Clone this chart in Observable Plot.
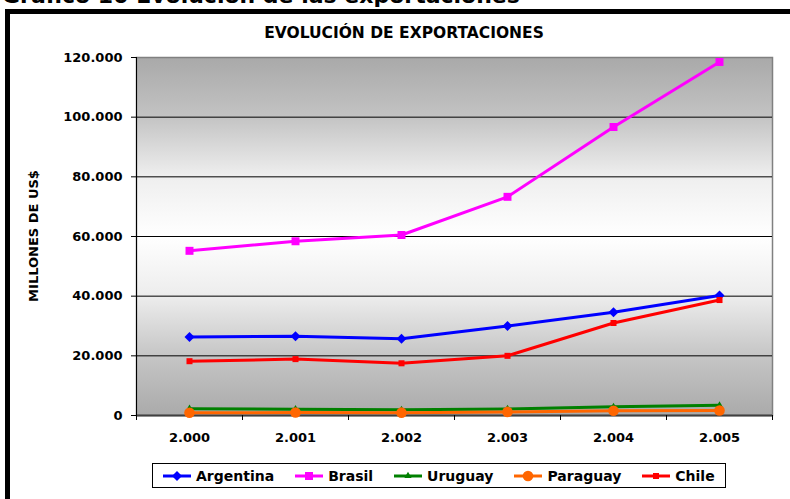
<!DOCTYPE html>
<html>
<head>
<meta charset="utf-8">
<script src="https://cdn.jsdelivr.net/npm/d3@7"></script>
<script src="https://cdn.jsdelivr.net/npm/@observablehq/plot@0.6"></script>
<style>
  html, body { margin: 0; padding: 0; background: #fff; }
  #wrap { position: relative; width: 790px; height: 499px; overflow: hidden; font-family: "DejaVu Sans", sans-serif; font-weight: bold; color: #000; }
  #maintitle { position: absolute; left: 2px; top: -15px; font-size: 22px; line-height: 22px; white-space: nowrap; }
  #outer { position: absolute; left: 5px; top: 9px; width: 820px; height: 600px; border-left: 5px solid #000; border-top: 5px solid #000; }
  #charttitle { position: absolute; left: 0; width: 808px; top: 25px; text-align: center; font-size: 15.5px; line-height: 16px; }
  #ylabel { position: absolute; left: 33px; top: 236px; font-size: 13px; line-height: 13px; white-space: nowrap; transform: translate(-50%, -50%) rotate(-90deg); }
  #plot { position: absolute; left: 0; top: 0; }
  #legend { position: absolute; left: 152px; top: 463px; width: 574px; height: 25px; box-sizing: border-box; border: 1px solid #000; background: #fff; display: flex; align-items: center; padding-left: 10px; gap: 21px; font-size: 14px; }
  .item { display: flex; align-items: center; gap: 5px; white-space: nowrap; }
  .item svg { display: block; }
</style>
</head>
<body>
<div id="wrap">
  <div id="maintitle">Gráfico 10 Evolución de las exportaciones</div>
  <div id="outer"></div>
  <div id="plot"></div>
  <div id="charttitle">EVOLUCIÓN DE EXPORTACIONES</div>
  <div id="ylabel">MILLONES DE US$</div>
  <div id="legend"></div>
</div>
<script>
// ---- Data (millions of US$) ----
const years = [2000, 2001, 2002, 2003, 2004, 2005];
const xLabels = ["2.000", "2.001", "2.002", "2.003", "2.004", "2.005"];
const countries = ["Argentina", "Brasil", "Uruguay", "Paraguay", "Chile"];
const argentina = [26300, 26600, 25700, 30000, 34600, 40200];
const brasil    = [55200, 58400, 60500, 73300, 96700, 118500];
const uruguay   = [2300, 2100, 1900, 2200, 2900, 3400];
const paraguay  = [900, 1000, 950, 1200, 1600, 1700];
const chile     = [18200, 18900, 17500, 20000, 31000, 38700];
const yTicks = [0, 20000, 40000, 60000, 80000, 100000, 120000];

const seriesValues = { Argentina: argentina, Brasil: brasil, Uruguay: uruguay, Paraguay: paraguay, Chile: chile };

// ---- Styles ----
const styles = {
  Argentina: { color: "#0000ff", symbol: "diamond2", r: 4.5 },
  Brasil:    { color: "#ff00ff", symbol: "square",   r: 4.5 },
  Uruguay:   { color: "#008000", symbol: "triangle", r: 2.7 },
  Paraguay:  { color: "#ff6600", symbol: "circle",   r: 5.3 },
  Chile:     { color: "#ff0000", symbol: "square",   r: 3.4 }
};

const rows = countries.flatMap(c => years.map((y, i) => ({ country: c, year: y, value: seriesValues[c][i] })));
const edges = [...years.map(y => y - 0.5), years[years.length - 1] + 0.5];
const fmt = d => d === 0 ? "0" : d3.format(",")(d).replace(/,/g, ".");

const seriesMarks = countries.flatMap(c => {
  const d = rows.filter(r => r.country === c);
  const s = styles[c];
  return [
    Plot.line(d, { x: "year", y: "value", stroke: s.color, strokeWidth: 3 }),
    Plot.dot(d, { x: "year", y: "value", fill: s.color, stroke: "none", symbol: () => s.symbol, r: s.r })
  ];
});

const svg = Plot.plot({
  width: 790,
  height: 499,
  marginTop: 57,
  marginBottom: 84,
  marginLeft: 136,
  marginRight: 18,
  style: { fontFamily: "DejaVu Sans, sans-serif", fontSize: "13px", fontWeight: "bold", color: "#000", background: "transparent", overflow: "visible" },
  x: { domain: [edges[0], edges[edges.length - 1]] },
  y: { domain: [0, 120000] },
  symbol: { type: "identity" },
  marks: [
    Plot.frame({ fill: "url(#bggrad)", stroke: "#808080", strokeWidth: 1.5 }),
    Plot.ruleY(yTicks.slice(1, -1), { stroke: "#000", strokeWidth: 1 }),
    Plot.ruleY([0], { stroke: "#404040", strokeWidth: 2 }),
    Plot.ruleX([edges[0]], { stroke: "#000", strokeWidth: 1 }),
    Plot.axisY(yTicks, { tickSize: 5, tickPadding: 9, tickFormat: fmt, label: null, stroke: "#000", fill: "#000" }),
    Plot.axisX(edges, { tickSize: 5, tickFormat: () => "", label: null, stroke: "#000" }),
    Plot.axisX(years, { tickSize: 0, tickPadding: 17, tickFormat: (d, i) => xLabels[years.indexOf(d)], label: null, fill: "#000" }),
    ...seriesMarks
  ]
});

// gradient definition for the plot background
const defs = d3.select(svg).insert("defs", ":first-child");
const grad = defs.append("linearGradient").attr("id", "bggrad").attr("x1", 0).attr("y1", 0).attr("x2", 0).attr("y2", 1);
[[0, "#a9a9a9"], [0.16, "#c2c2c2"], [0.33, "#eeeeee"], [0.5, "#ffffff"], [0.67, "#ececec"], [0.83, "#c6c6c6"], [1, "#aaaaaa"]]
  .forEach(([o, c]) => grad.append("stop").attr("offset", o).attr("stop-color", c));

document.getElementById("plot").appendChild(svg);

// ---- Legend ----
const legend = d3.select("#legend");
countries.forEach(c => {
  const s = styles[c];
  const item = legend.append("div").attr("class", "item");
  const sv = item.append("svg").attr("width", 28).attr("height", 14);
  sv.append("line").attr("x1", 0).attr("x2", 28).attr("y1", 7).attr("y2", 7).attr("stroke", s.color).attr("stroke-width", 3);
  const sym = { diamond2: d3.symbolDiamond2, square: d3.symbolSquare, triangle: d3.symbolTriangle, circle: d3.symbolCircle }[s.symbol];
  sv.append("path").attr("transform", "translate(14,7)").attr("d", d3.symbol(sym, s.r * s.r * Math.PI)()).attr("fill", s.color);
  item.append("span").text(c);
});
</script>
</body>
</html>
